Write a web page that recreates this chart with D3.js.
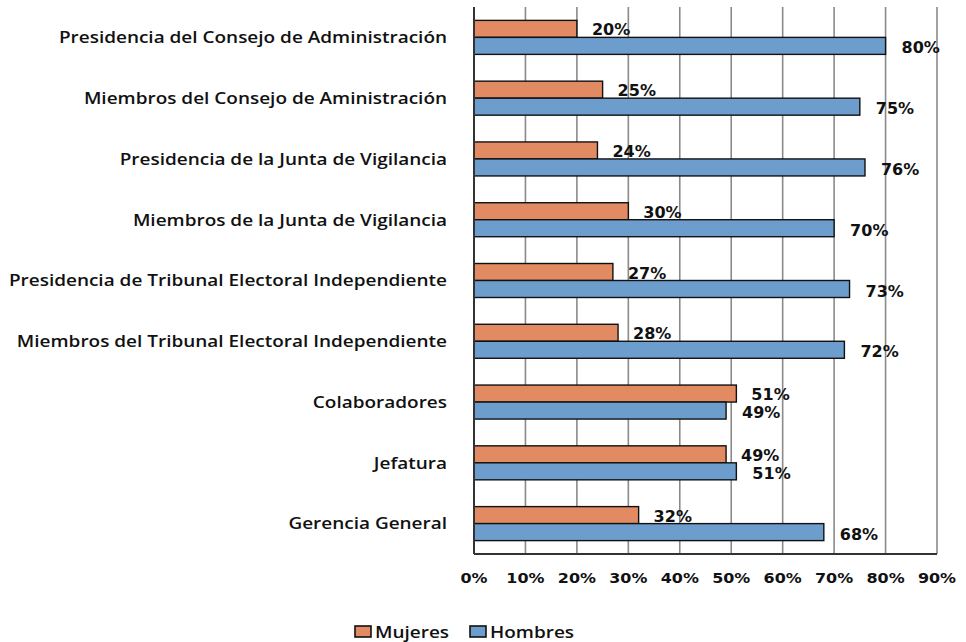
<!DOCTYPE html>
<html>
<head>
<meta charset="utf-8">
<script src="https://cdn.jsdelivr.net/npm/d3@7"></script>
<style>
body{margin:0;background:#fff;}
svg{display:block;}
</style>
</head>
<body>
<svg id="chart" width="966" height="642"></svg>
<script>
// data
var categories = ["Presidencia del Consejo de Administración","Miembros del Consejo de Aministración","Presidencia de la Junta de Vigilancia","Miembros de la Junta de Vigilancia","Presidencia de Tribunal Electoral Independiente","Miembros del Tribunal Electoral Independiente","Colaboradores","Jefatura","Gerencia General"];
var mujeres = [20,25,24,30,27,28,51,49,32];
var hombres = [80,75,76,70,73,72,49,51,68];
var xTicks = [0,10,20,30,40,50,60,70,80,90];
var seriesNames = ["Mujeres","Hombres"];
var seriesColors = ["#e28a62","#6c9dcd"];

var svg = d3.select("#chart");
var plotLeft = 474, plotRight = 937, plotTop = 7, plotBottom = 554;
var stretch = 1.15; // the source picture is a bit wide

var x = d3.scaleLinear().domain([0,90]).range([plotLeft,plotRight]);
var y = d3.scaleBand().domain(categories).range([plotTop,plotBottom]);
var barH = 17;

// grid
svg.append("g").selectAll("line")
	.data(xTicks.slice(1))
	.enter().append("line")
	.attr("x1",function(d){return x(d)}).attr("x2",function(d){return x(d)})
	.attr("y1",plotTop).attr("y2",plotBottom)
	.attr("stroke","#8a8a8a").attr("stroke-width",1.6);

// bars
var rows = svg.append("g").selectAll("g")
	.data(categories)
	.enter().append("g")
	.attr("transform",function(d){return "translate(0,"+(y(d)+y.bandwidth()/2)+")"});

rows.append("rect")
	.attr("x",x(0)).attr("y",-barH)
	.attr("width",function(d,i){return x(mujeres[i])-x(0)})
	.attr("height",barH)
	.attr("fill",seriesColors[0]).attr("stroke","#111").attr("stroke-width",1.4);

rows.append("rect")
	.attr("x",x(0)).attr("y",0)
	.attr("width",function(d,i){return x(hombres[i])-x(0)})
	.attr("height",barH)
	.attr("fill",seriesColors[1]).attr("stroke","#111").attr("stroke-width",1.4);

rows.append("text")
	.attr("x",function(d,i){return x(mujeres[i])+15})
	.attr("y",-barH/2+1)
	.attr("dy","0.35em")
	.attr("font-family","DejaVu Sans").attr("font-weight","bold").attr("font-size",16)
	.attr("fill","#111")
	.text(function(d,i){return mujeres[i]+"%"});

rows.append("text")
	.attr("x",function(d,i){return x(hombres[i])+16})
	.attr("y",barH/2+2)
	.attr("dy","0.35em")
	.attr("font-family","DejaVu Sans").attr("font-weight","bold").attr("font-size",16)
	.attr("fill","#111")
	.text(function(d,i){return hombres[i]+"%"});

// category labels
rows.append("text")
	.attr("transform","translate(447,0) scale("+stretch+",1)")
	.attr("dy","0.35em")
	.attr("text-anchor","end")
	.attr("font-family","Open Sans").attr("font-weight",600).attr("font-size",16.5)
	.attr("fill","#111")
	.text(function(d){return d});

// axes lines
svg.append("line").attr("x1",plotLeft).attr("x2",plotLeft).attr("y1",plotTop).attr("y2",plotBottom)
	.attr("stroke","#333").attr("stroke-width",2);
svg.append("line").attr("x1",plotLeft).attr("x2",plotRight).attr("y1",plotBottom).attr("y2",plotBottom)
	.attr("stroke","#333").attr("stroke-width",2);

// tick labels
svg.append("g").selectAll("text")
	.data(xTicks)
	.enter().append("text")
	.attr("transform",function(d){return "translate("+x(d)+",578) scale(1.1,1)"})
	.attr("dy","0.35em")
	.attr("text-anchor","middle")
	.attr("font-family","DejaVu Sans").attr("font-weight","bold").attr("font-size",14.5)
	.attr("fill","#111")
	.text(function(d){return d+"%"});

// legend
var legX = [355,470];
var leg = svg.append("g").selectAll("g")
	.data(seriesNames)
	.enter().append("g")
	.attr("transform",function(d,i){return "translate("+legX[i]+",626)"});
leg.append("rect").attr("width",16).attr("height",11)
	.attr("fill",function(d,i){return seriesColors[i]}).attr("stroke","#111").attr("stroke-width",1.6);
leg.append("text")
	.attr("transform","translate(20,6) scale("+stretch+",1)")
	.attr("dy","0.35em")
	.attr("font-family","Open Sans").attr("font-weight",600).attr("font-size",16.5)
	.attr("fill","#111")
	.text(function(d){return d});
</script>
</body>
</html>
